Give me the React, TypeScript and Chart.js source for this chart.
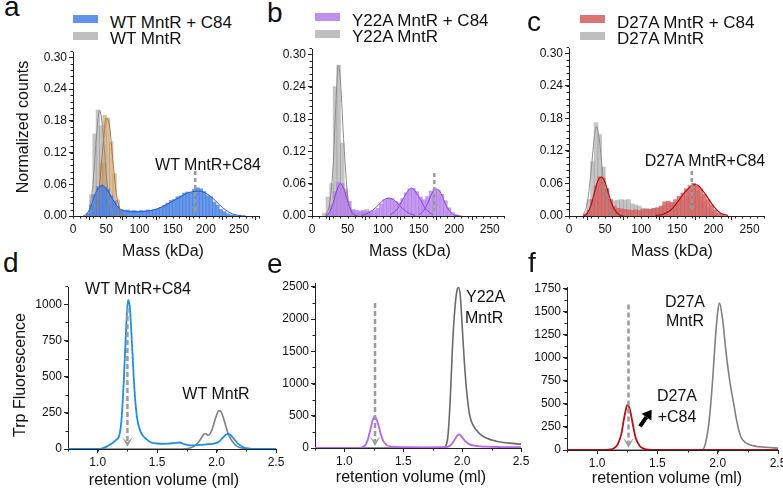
import React, { useEffect, useRef } from "react";
import { Chart, registerables } from "chart.js";

Chart.register(...registerables);

const FONT = '"Liberation Sans", Arial, Helvetica, sans-serif';
const INK = "#111111";
const AXIS = "#222222";
const ARROW_GREY = "#9b9b9b";

// ---------- tick labels ----------
const MASS_TICKS = [0, 50, 100, 150, 200, 250];
const COUNT_TICKS = [0, 0.06, 0.12, 0.18, 0.24, 0.3];
const VOLUME_TICKS = [1.0, 1.5, 2.0, 2.5];
const WT_FLUOR_TICKS = [0, 250, 500, 750, 1000];
const Y22A_FLUOR_TICKS = [0, 500, 1000, 1500, 2000, 2500];
const D27A_FLUOR_TICKS = [0, 250, 500, 750, 1000, 1250, 1500, 1750];

// ---------- mass photometry histograms (5 kDa bins, value = bin centre) ----------
const BIN_WIDTH = 5;

const WT_C84_START = 22.5;
const WT_C84_COUNTS = [0.004, 0.02, 0.04, 0.055, 0.058, 0.054, 0.05, 0.038, 0.028, 0.018, 0.012, 0.01, 0.011, 0.009, 0.01, 0.008, 0.01, 0.009, 0.011, 0.01, 0.012, 0.013, 0.016, 0.02, 0.024, 0.029, 0.031, 0.036, 0.038, 0.043, 0.045, 0.044, 0.05, 0.053, 0.051, 0.046, 0.038, 0.036, 0.026, 0.02, 0.012, 0.008, 0.004, 0.002, 0.001];
const WT_APO_START = 22.5;
const WT_APO_COUNTS = [0.005, 0.04, 0.155, 0.2, 0.17, 0.1, 0.05, 0.02, 0.008];
const WT_SHIFTED_START = 37.5;
const WT_SHIFTED_COUNTS = [0.03, 0.1, 0.19, 0.185, 0.14, 0.08, 0.03, 0.01];

const WT_C84_FIT_X = [15, 20, 25, 30, 35, 40, 45, 50, 55, 60, 65, 70, 80, 90, 100, 110, 120, 130, 140, 150, 160, 170, 180, 190, 200, 210, 220, 230, 240, 250, 260];
const WT_C84_FIT_Y = [0, 0.003, 0.012, 0.03, 0.046, 0.055, 0.057, 0.052, 0.042, 0.031, 0.021, 0.014, 0.009, 0.008, 0.008, 0.009, 0.011, 0.015, 0.021, 0.028, 0.035, 0.042, 0.046, 0.047, 0.043, 0.034, 0.022, 0.011, 0.004, 0.001, 0];
const WT_APO_FIT_X = [20, 25, 30, 35, 40, 45, 50, 55, 60, 65, 70];
const WT_APO_FIT_Y = [0.002, 0.015, 0.06, 0.145, 0.2, 0.16, 0.08, 0.025, 0.006, 0.001, 0];
const WT_SHIFTED_FIT_X = [30, 35, 40, 45, 50, 55, 60, 65, 70, 75, 80];
const WT_SHIFTED_FIT_Y = [0.002, 0.015, 0.06, 0.13, 0.185, 0.17, 0.105, 0.045, 0.013, 0.003, 0];

const Y22A_C84_START = 22.5;
const Y22A_C84_COUNTS = [0.005, 0.02, 0.045, 0.062, 0.06, 0.045, 0.027, 0.012, 0.01, 0.009, 0.01, 0.008, 0.009, 0.01, 0.014, 0.022, 0.03, 0.033, 0.032, 0.027, 0.024, 0.032, 0.043, 0.05, 0.051, 0.045, 0.035, 0.03, 0.036, 0.046, 0.05, 0.048, 0.04, 0.028, 0.015, 0.006, 0.002];
const Y22A_APO_START = 17.5;
const Y22A_APO_COUNTS = [0.005, 0.035, 0.06, 0.24, 0.28, 0.135, 0.05, 0.015, 0.008, 0.005, 0.004, 0.006, 0.012, 0.004];

const Y22A_APO_FIT_X = [20, 25, 30, 33, 37, 40, 45, 50, 55, 60, 65];
const Y22A_APO_FIT_Y = [0.003, 0.025, 0.1, 0.19, 0.28, 0.25, 0.13, 0.04, 0.008, 0.001, 0];
const Y22A_FIT1_X = [20, 25, 30, 35, 40, 45, 50, 55, 60, 65];
const Y22A_FIT1_Y = [0, 0.008, 0.025, 0.048, 0.06, 0.05, 0.028, 0.01, 0.002, 0];
const Y22A_FIT2_X = [70, 80, 90, 100, 107, 115, 125, 135, 145];
const Y22A_FIT2_Y = [0.001, 0.006, 0.016, 0.029, 0.033, 0.03, 0.017, 0.006, 0.001];
const Y22A_FIT3_X = [110, 120, 130, 140, 150, 160, 170];
const Y22A_FIT3_Y = [0.002, 0.013, 0.036, 0.052, 0.036, 0.013, 0.002];
const Y22A_FIT4_X = [150, 155, 160, 165, 170, 175, 180, 185, 190, 195, 200, 210];
const Y22A_FIT4_Y = [0.002, 0.007, 0.016, 0.031, 0.045, 0.05, 0.045, 0.031, 0.016, 0.007, 0.002, 0];

const D27A_C84_START = 22.5;
const D27A_C84_COUNTS = [0.002, 0.01, 0.03, 0.055, 0.072, 0.07, 0.05, 0.03, 0.018, 0.014, 0.013, 0.012, 0.011, 0.01, 0.011, 0.01, 0.012, 0.013, 0.012, 0.014, 0.015, 0.018, 0.026, 0.027, 0.025, 0.03, 0.036, 0.042, 0.05, 0.056, 0.06, 0.055, 0.05, 0.04, 0.03, 0.02, 0.011, 0.005, 0.002];
const D27A_APO_START = 22.5;
const D27A_APO_COUNTS = [0.005, 0.03, 0.1, 0.172, 0.15, 0.09, 0.05, 0.03, 0.028, 0.029, 0.03, 0.029, 0.03, 0.022, 0.02, 0.018, 0.014, 0.012, 0.012, 0.013, 0.014, 0.016, 0.02, 0.022, 0.022, 0.024, 0.026, 0.03, 0.036, 0.045, 0.05, 0.045, 0.035, 0.025, 0.015, 0.008, 0.003];

const D27A_APO_FIT_X = [20, 25, 30, 35, 38, 42, 47, 52, 57, 62, 67];
const D27A_APO_FIT_Y = [0.003, 0.022, 0.075, 0.145, 0.165, 0.14, 0.075, 0.025, 0.005, 0.001, 0];
const D27A_FIT1_X = [20, 25, 30, 35, 40, 45, 50, 55, 60, 65, 70, 75];
const D27A_FIT1_Y = [0, 0.005, 0.018, 0.042, 0.065, 0.072, 0.062, 0.04, 0.02, 0.008, 0.002, 0];
const D27A_FIT2_X = [120, 130, 140, 150, 160, 170, 175, 180, 190, 200, 210, 220];
const D27A_FIT2_Y = [0.001, 0.003, 0.01, 0.025, 0.043, 0.056, 0.058, 0.055, 0.038, 0.018, 0.005, 0.001];

// ---------- SEC traces: retention volume (ml) vs Trp fluorescence ----------
const WT_C84_VOL = [0.75, 1.0, 1.03, 1.07, 1.1, 1.13, 1.15, 1.18, 1.2, 1.22, 1.24, 1.255, 1.27, 1.29, 1.31, 1.33, 1.36, 1.4, 1.45, 1.5, 1.55, 1.6, 1.65, 1.69, 1.73, 1.78, 1.85, 1.92, 1.98, 2.02, 2.05, 2.08, 2.1, 2.12, 2.15, 2.19, 2.23, 2.28, 2.35, 2.5];
const WT_C84_FLUOR = [0, 0, 2, 15, 30, 45, 60, 90, 200, 480, 850, 1030, 980, 700, 400, 220, 120, 75, 45, 38, 36, 37, 42, 45, 33, 25, 28, 33, 38, 50, 75, 100, 105, 95, 65, 30, 10, 3, 1, 0];
const WT_APO_VOL = [0.75, 1.7, 1.77, 1.82, 1.86, 1.89, 1.91, 1.93, 1.96, 1.99, 2.02, 2.04, 2.07, 2.1, 2.13, 2.17, 2.22, 2.3, 2.5];
const WT_APO_FLUOR = [0, 0, 5, 25, 60, 100, 105, 95, 130, 210, 265, 255, 180, 100, 55, 20, 5, 1, 0];

const Y22A_C84_VOL = [0.75, 1.1, 1.15, 1.18, 1.2, 1.22, 1.24, 1.255, 1.27, 1.29, 1.31, 1.33, 1.36, 1.4, 1.5, 1.7, 1.85, 1.9, 1.93, 1.96, 1.975, 1.99, 2.02, 2.06, 2.1, 2.2, 2.35, 2.5];
const Y22A_C84_FLUOR = [0, 0, 10, 50, 140, 280, 430, 485, 460, 350, 210, 110, 45, 20, 12, 10, 12, 40, 110, 195, 210, 190, 120, 60, 35, 20, 15, 12];
const Y22A_APO_VOL = [0.75, 1.84, 1.86, 1.88, 1.9, 1.92, 1.94, 1.96, 1.97, 1.985, 2.0, 2.02, 2.04, 2.065, 2.1, 2.15, 2.21, 2.3, 2.4, 2.5];
const Y22A_APO_FLUOR = [0, 0, 30, 200, 800, 1650, 2200, 2470, 2490, 2350, 1900, 1300, 850, 500, 330, 220, 150, 100, 75, 60];

const D27A_C84_VOL = [0.75, 1.05, 1.1, 1.14, 1.17, 1.2, 1.22, 1.24, 1.25, 1.265, 1.28, 1.3, 1.32, 1.35, 1.38, 1.42, 1.5, 2.5];
const D27A_C84_FLUOR = [0, 0, 5, 20, 60, 170, 320, 450, 490, 470, 390, 250, 130, 50, 18, 5, 2, 0];
const D27A_APO_VOL = [0.75, 1.87, 1.9, 1.93, 1.96, 1.98, 2.0, 2.015, 2.04, 2.07, 2.1, 2.13, 2.16, 2.19, 2.23, 2.3, 2.4, 2.5];
const D27A_APO_FLUOR = [0, 0, 80, 330, 800, 1200, 1500, 1595, 1420, 1050, 750, 520, 300, 150, 80, 45, 30, 20];

// ---------- legend labels ----------
const WT_LABELS = ["WT MntR + C84", "WT MntR"];
const Y22A_LABELS = ["Y22A MntR + C84", "Y22A MntR"];
const D27A_LABELS = ["D27A MntR + C84", "D27A MntR"];

// ---------- colours ----------
const BLUE_BAR = "rgba(72,128,228,0.82)";
const BLUE_FIT = "#2757c9";
const GREY_BAR = "rgba(150,150,150,0.55)";
const GREY_FIT = "#8c8c8c";
const TAN_BAR = "rgba(196,150,96,0.62)";
const TAN_FIT = "#a8783e";
const PURPLE_BAR = "rgba(180,125,235,0.78)";
const PURPLE_FIT = "#8a43d2";
const RED_BAR = "rgba(214,92,92,0.8)";
const RED_FIT = "#a8141a";
const BLUE_TRACE = "#1b8fe6";
const PURPLE_TRACE = "#b565f2";
const RED_TRACE = "#b8101a";
const GREY_TRACE = "#808080";
const DARK_GREY_TRACE = "#6a6a6a";

// ---------- layout of each panel (plot area in page pixels) ----------
type Box = { l: number; t: number; r: number; b: number };
const PAD_L = 46;
const PAD_T = 12;
const PAD_R = 16;
const PAD_B = 30;

const BOX_A: Box = { l: 73, t: 52, r: 259, b: 216 };
const BOX_B: Box = { l: 312, t: 49, r: 504, b: 216 };
const BOX_C: Box = { l: 569, t: 48, r: 764, b: 216 };
const BOX_D: Box = { l: 68, t: 287, r: 276, b: 449 };
const BOX_E: Box = { l: 315, t: 283, r: 521, b: 448 };
const BOX_F: Box = { l: 567, t: 287, r: 778, b: 450 };

type Pt = { x: number; y: number };
const pts = (xs: number[], ys: number[]): Pt[] => xs.map((x, i) => ({ x, y: ys[i] }));
const bins = (start: number, ys: number[]): Pt[] => ys.map((y, i) => ({ x: start + i * BIN_WIDTH, y }));

function axis(min: number, max: number, ticks: number[], fmt: (v: number) => string, horizontal: boolean) {
  return {
    type: "linear",
    min,
    max,
    offset: false,
    afterBuildTicks: (s: any) => {
      s.ticks = ticks.map((v) => ({ value: v }));
    },
    afterFit: (s: any) => {
      if (horizontal) s.height = PAD_B;
      else s.width = PAD_L;
    },
    grid: { display: true, drawOnChartArea: false, drawTicks: true, tickLength: 4, color: AXIS, lineWidth: 1 },
    border: { display: true, color: AXIS, width: 1 },
    ticks: {
      color: INK,
      font: { family: FONT, size: 12 },
      padding: 2,
      autoSkip: false,
      maxRotation: 0,
      callback: (v: any) => fmt(Number(v)),
    },
  };
}

type VArrow = { x: number; top: number; tip: number };
type Extras = {
  minorX: number;
  minorY: number;
  arrows: VArrow[];
  headW: number;
  headH: number;
  dash: number[];
  black?: { x1: number; y1: number; x2: number; y2: number };
};

function extrasPlugin(o: Extras) {
  return {
    id: "extras",
    afterDatasetsDraw(chart: any) {
      const { ctx } = chart;
      const xs = chart.scales.x;
      const ys = chart.scales.y;
      ctx.save();
      for (const a of o.arrows) {
        const px = xs.getPixelForValue(a.x);
        const pTop = ys.getPixelForValue(a.top);
        const pTip = ys.getPixelForValue(a.tip);
        ctx.strokeStyle = ARROW_GREY;
        ctx.lineWidth = 2.5;
        ctx.setLineDash(o.dash);
        ctx.beginPath();
        ctx.moveTo(px, pTop);
        ctx.lineTo(px, pTip - o.headH * 0.5);
        ctx.stroke();
        ctx.setLineDash([]);
        ctx.fillStyle = ARROW_GREY;
        ctx.beginPath();
        ctx.moveTo(px - o.headW / 2, pTip - o.headH);
        ctx.lineTo(px, pTip);
        ctx.lineTo(px + o.headW / 2, pTip - o.headH);
        ctx.lineTo(px, pTip - o.headH * 0.45);
        ctx.closePath();
        ctx.fill();
      }
      if (o.black) {
        const x1 = xs.getPixelForValue(o.black.x1);
        const y1 = ys.getPixelForValue(o.black.y1);
        const x2 = xs.getPixelForValue(o.black.x2);
        const y2 = ys.getPixelForValue(o.black.y2);
        const ang = Math.atan2(y2 - y1, x2 - x1);
        const len = 9;
        const bx = x2 - len * Math.cos(ang);
        const by = y2 - len * Math.sin(ang);
        ctx.strokeStyle = "#000";
        ctx.lineWidth = 4;
        ctx.beginPath();
        ctx.moveTo(x1, y1);
        ctx.lineTo(bx, by);
        ctx.stroke();
        ctx.fillStyle = "#000";
        ctx.beginPath();
        ctx.moveTo(x2, y2);
        ctx.lineTo(bx + 6 * Math.sin(ang), by - 6 * Math.cos(ang));
        ctx.lineTo(bx - 6 * Math.sin(ang), by + 6 * Math.cos(ang));
        ctx.closePath();
        ctx.fill();
      }
      ctx.restore();
    },
    afterDraw(chart: any) {
      const { ctx, chartArea } = chart;
      const xs = chart.scales.x;
      const ys = chart.scales.y;
      ctx.save();
      ctx.strokeStyle = AXIS;
      ctx.lineWidth = 1;
      ctx.beginPath();
      const nx = Math.round((xs.max - xs.min) / o.minorX);
      for (let i = 0; i <= nx; i++) {
        const v = xs.min + i * o.minorX;
        const p = Math.round(xs.getPixelForValue(v)) + 0.5;
        ctx.moveTo(p, chartArea.bottom);
        ctx.lineTo(p, chartArea.bottom + 2.5);
      }
      const ny = Math.round((ys.max - ys.min) / o.minorY);
      for (let i = 0; i <= ny; i++) {
        const v = ys.min + i * o.minorY;
        const p = Math.round(ys.getPixelForValue(v)) + 0.5;
        ctx.moveTo(chartArea.left, p);
        ctx.lineTo(chartArea.left - 2.5, p);
      }
      ctx.stroke();
      ctx.restore();
    },
  };
}

const baseOptions = (scales: any) => ({
  animation: false,
  responsive: false,
  events: [],
  layout: { padding: { top: PAD_T, right: PAD_R, left: 0, bottom: 0 } },
  plugins: { legend: { display: false }, tooltip: { enabled: false } },
  scales,
  datasets: {
    bar: { grouped: false, barPercentage: 1, categoryPercentage: 1, borderWidth: 0, inflateAmount: 0.5 },
    line: { pointRadius: 0, fill: false, cubicInterpolationMode: "monotone" },
  },
});

const fitLine = (data: Pt[], color: string, width = 1) => ({
  type: "line",
  data,
  borderColor: color,
  borderWidth: width,
  pointRadius: 0,
  fill: false,
  cubicInterpolationMode: "monotone",
});
const histBars = (data: Pt[], color: string) => ({ type: "bar", data, backgroundColor: color, borderWidth: 0, inflateAmount: 0.5 });
const trace = (data: Pt[], color: string, width = 1.6) => ({
  type: "line",
  data,
  borderColor: color,
  borderWidth: width,
  pointRadius: 0,
  fill: false,
  cubicInterpolationMode: "monotone",
});

const massAxes = (max: number) => ({
  x: axis(0, max, MASS_TICKS, (v) => String(v), true),
  y: axis(0, 0.31, COUNT_TICKS, (v) => v.toFixed(2), false),
});
const volumeAxes = (ymax: number, yt: number[]) => ({
  x: axis(0.75, 2.5, VOLUME_TICKS, (v) => v.toFixed(1), true),
  y: axis(0, ymax, yt, (v) => String(v), false),
});

function buildA() {
  return {
    type: "bar",
    data: {
      datasets: [
        fitLine(pts(WT_C84_FIT_X, WT_C84_FIT_Y), BLUE_FIT),
        fitLine(pts(WT_APO_FIT_X, WT_APO_FIT_Y), GREY_FIT),
        fitLine(pts(WT_SHIFTED_FIT_X, WT_SHIFTED_FIT_Y), TAN_FIT),
        histBars(bins(WT_C84_START, WT_C84_COUNTS), BLUE_BAR),
        histBars(bins(WT_SHIFTED_START, WT_SHIFTED_COUNTS), TAN_BAR),
        histBars(bins(WT_APO_START, WT_APO_COUNTS), GREY_BAR),
      ],
    },
    options: baseOptions(massAxes(280)),
    plugins: [extrasPlugin({ minorX: 10, minorY: 0.012, arrows: [{ x: 184, top: 0.085, tip: 0.006 }], headW: 8, headH: 7, dash: [4, 3] })],
  };
}

function buildB() {
  return {
    type: "bar",
    data: {
      datasets: [
        fitLine(pts(Y22A_FIT1_X, Y22A_FIT1_Y), PURPLE_FIT),
        fitLine(pts(Y22A_FIT2_X, Y22A_FIT2_Y), PURPLE_FIT),
        fitLine(pts(Y22A_FIT3_X, Y22A_FIT3_Y), PURPLE_FIT),
        fitLine(pts(Y22A_FIT4_X, Y22A_FIT4_Y), PURPLE_FIT),
        fitLine(pts(Y22A_APO_FIT_X, Y22A_APO_FIT_Y), GREY_FIT),
        histBars(bins(Y22A_C84_START, Y22A_C84_COUNTS), PURPLE_BAR),
        histBars(bins(Y22A_APO_START, Y22A_APO_COUNTS), GREY_BAR),
      ],
    },
    options: baseOptions(massAxes(270)),
    plugins: [extrasPlugin({ minorX: 10, minorY: 0.012, arrows: [{ x: 172, top: 0.08, tip: 0.008 }], headW: 8, headH: 7, dash: [4, 3] })],
  };
}

function buildC() {
  return {
    type: "bar",
    data: {
      datasets: [
        fitLine(pts(D27A_FIT1_X, D27A_FIT1_Y), RED_FIT, 1.2),
        fitLine(pts(D27A_FIT2_X, D27A_FIT2_Y), RED_FIT, 1.2),
        fitLine(pts(D27A_APO_FIT_X, D27A_APO_FIT_Y), GREY_FIT),
        histBars(bins(D27A_C84_START, D27A_C84_COUNTS), RED_BAR),
        histBars(bins(D27A_APO_START, D27A_APO_COUNTS), GREY_BAR),
      ],
    },
    options: baseOptions(massAxes(270)),
    plugins: [extrasPlugin({ minorX: 10, minorY: 0.012, arrows: [{ x: 170, top: 0.083, tip: 0.01 }], headW: 8, headH: 7, dash: [4, 3] })],
  };
}

function buildD() {
  return {
    type: "line",
    data: {
      datasets: [trace(pts(WT_C84_VOL, WT_C84_FLUOR), BLUE_TRACE, 1.8), trace(pts(WT_APO_VOL, WT_APO_FLUOR), GREY_TRACE)],
    },
    options: baseOptions(volumeAxes(1120, WT_FLUOR_TICKS)),
    plugins: [extrasPlugin({ minorX: 0.25, minorY: 125, arrows: [{ x: 1.25, top: 975, tip: 15 }], headW: 11, headH: 10, dash: [5, 3] })],
  };
}

function buildE() {
  return {
    type: "line",
    data: {
      datasets: [trace(pts(Y22A_C84_VOL, Y22A_C84_FLUOR), PURPLE_TRACE, 1.8), trace(pts(Y22A_APO_VOL, Y22A_APO_FLUOR), DARK_GREY_TRACE)],
    },
    options: baseOptions(volumeAxes(2560, Y22A_FLUOR_TICKS)),
    plugins: [extrasPlugin({ minorX: 0.25, minorY: 250, arrows: [{ x: 1.26, top: 2250, tip: 30 }], headW: 11, headH: 10, dash: [5, 3] })],
  };
}

function buildF() {
  return {
    type: "line",
    data: {
      datasets: [trace(pts(D27A_C84_VOL, D27A_C84_FLUOR), RED_TRACE, 1.8), trace(pts(D27A_APO_VOL, D27A_APO_FLUOR), GREY_TRACE)],
    },
    options: baseOptions(volumeAxes(1770, D27A_FLUOR_TICKS)),
    plugins: [
      extrasPlugin({
        minorX: 0.25,
        minorY: 125,
        arrows: [{ x: 1.26, top: 1580, tip: 25 }],
        headW: 11,
        headH: 10,
        dash: [5, 3],
        black: { x1: 1.355, y1: 256, x2: 1.452, y2: 437 },
      }),
    ],
  };
}

function Panel({ box, build }: { box: Box; build: () => any }) {
  const ref = useRef<HTMLCanvasElement>(null);
  const w = box.r - box.l + PAD_L + PAD_R;
  const h = box.b - box.t + PAD_T + PAD_B;
  useEffect(() => {
    const chart = new Chart(ref.current as HTMLCanvasElement, build());
    return () => chart.destroy();
  }, []);
  return (
    <canvas
      ref={ref}
      width={w}
      height={h}
      style={{ position: "absolute", left: box.l - PAD_L, top: box.t - PAD_T, width: w, height: h }}
    />
  );
}

function Txt({ x, y, size, children, start, rotate }: { x: number; y: number; size: number; children: React.ReactNode; start?: boolean; rotate?: boolean }) {
  return (
    <div
      style={{
        position: "absolute",
        left: x,
        top: y,
        transform: `translate(${start ? "0" : "-50%"},-50%)${rotate ? " rotate(-90deg)" : ""}`,
        font: `${size}px ${FONT}`,
        lineHeight: 1,
        whiteSpace: "nowrap",
        color: INK,
      }}
    >
      {children}
    </div>
  );
}

function Legend({ x, y, labels, colors }: { x: number; y: number; labels: string[]; colors: string[] }) {
  return (
    <>
      {labels.map((lab, i) => (
        <React.Fragment key={lab}>
          <div style={{ position: "absolute", left: x, top: y + i * 16.5, width: 25, height: 8, background: colors[i] }} />
          <Txt x={x + 37} y={y + 7 + i * 16} size={17} start>
            {lab}
          </Txt>
        </React.Fragment>
      ))}
    </>
  );
}

export default function App() {
  return (
    <div style={{ position: "fixed", left: 0, top: 0, width: 783, height: 501, background: "#fff", overflow: "hidden" }}>
      <Panel box={BOX_A} build={buildA} />
      <Panel box={BOX_B} build={buildB} />
      <Panel box={BOX_C} build={buildC} />
      <Panel box={BOX_D} build={buildD} />
      <Panel box={BOX_E} build={buildE} />
      <Panel box={BOX_F} build={buildF} />

      {/* panel letters */}
      <Txt x={4} y={7} size={28} start>a</Txt>
      <Txt x={267} y={13} size={28} start>b</Txt>
      <Txt x={527} y={22} size={28} start>c</Txt>
      <Txt x={3} y={263} size={28} start>d</Txt>
      <Txt x={267} y={264} size={28} start>e</Txt>
      <Txt x={528} y={263} size={28} start>f</Txt>

      {/* legends */}
      <Legend x={73} y={15} labels={WT_LABELS} colors={["rgba(80,135,232,0.9)", "rgba(175,175,175,0.8)"]} />
      <Legend x={315} y={13} labels={Y22A_LABELS} colors={["rgba(180,125,235,0.85)", "rgba(175,175,175,0.8)"]} />
      <Legend x={580} y={15} labels={D27A_LABELS} colors={["rgba(214,92,92,0.85)", "rgba(175,175,175,0.8)"]} />

      {/* axis titles */}
      <Txt x={23} y={127} size={16} rotate>Normalized counts</Txt>
      <Txt x={163} y={251} size={16}>Mass (kDa)</Txt>
      <Txt x={410} y={251} size={16}>Mass (kDa)</Txt>
      <Txt x={672} y={251} size={16}>Mass (kDa)</Txt>
      <Txt x={20} y={375} size={16} rotate>Trp Fluorescence</Txt>
      <Txt x={164} y={480} size={16}>retention volume (ml)</Txt>
      <Txt x={411} y={477} size={16}>retention volume (ml)</Txt>
      <Txt x={667} y={478} size={16}>retention volume (ml)</Txt>

      {/* peak annotations */}
      <Txt x={208} y={165} size={16}>WT MntR+C84</Txt>
      <Txt x={705} y={161} size={16}>D27A MntR+C84</Txt>
      <Txt x={138} y={289} size={16}>WT MntR+C84</Txt>
      <Txt x={216} y={394} size={16}>WT MntR</Txt>
      <Txt x={466} y={297} size={16} start>Y22A</Txt>
      <Txt x={465} y={318} size={16} start>MntR</Txt>
      <Txt x={685} y={302} size={16}>D27A</Txt>
      <Txt x={685} y={321} size={16}>MntR</Txt>
      <Txt x={677} y={396} size={16}>D27A</Txt>
      <Txt x={677} y={417} size={16}>+C84</Txt>
    </div>
  );
}
